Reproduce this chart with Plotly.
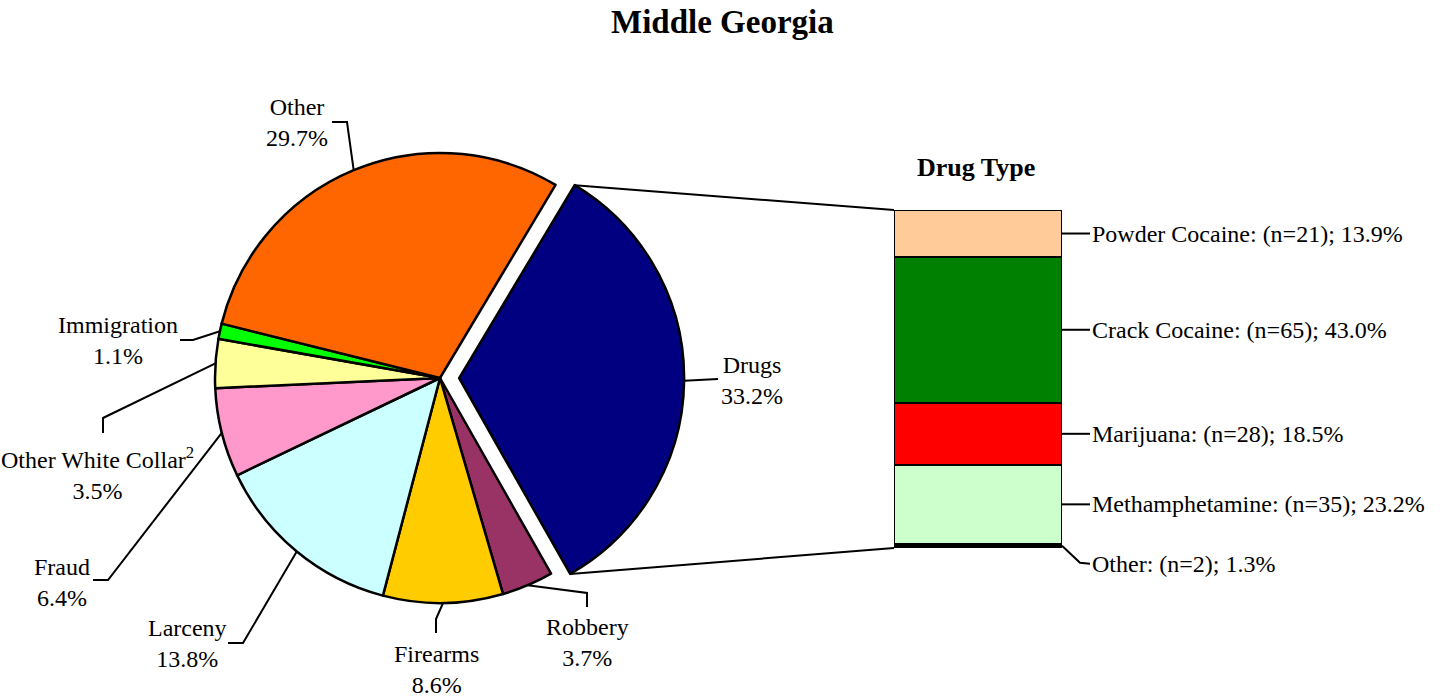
import math
import plotly.graph_objects as go

# ---------------- data ----------------
offense_labels = ["Drugs", "Robbery", "Firearms", "Larceny", "Fraud",
                  "Other White Collar", "Immigration", "Other"]
offense_pct = [33.2, 3.7, 8.6, 13.8, 6.4, 3.5, 1.1, 29.7]
offense_footnote = {"Other White Collar": "2"}
offense_colors = ["#000080", "#993366", "#FFCC00", "#CCFFFF", "#FF99CC",
                  "#FFFF99", "#00FF00", "#FF6600"]

drug_labels = ["Powder Cocaine", "Crack Cocaine", "Marijuana", "Methamphetamine", "Other"]
drug_n = [21, 65, 28, 35, 2]
drug_pct = [13.9, 43.0, 18.5, 23.2, 1.3]
drug_colors = ["#FFCC99", "#008000", "#FF0000", "#CCFFCC", "#000000"]

title_text = "Middle Georgia"
bar_title = "Drug Type"

# ---------------- layout constants (pixels) ----------------
W, H = 1440, 697
CX, CY, R = 440, 378, 225
PULL = 0.085
ROT = 30.9
BAR_X0, BAR_X1, BAR_TOP, BAR_BOT = 894, 1062, 210, 548
FONT = "Liberation Serif, Times New Roman, serif"
LW = 2
FS = 24

def px(x):
    return x / W

def py(y):
    return 1 - y / H

# label placement: text centre and elbow points (pixels), leader goes anchor -> elbows
label_layout = {
    "Drugs": dict(text=(752, 380), elbows=[(718, 379)]),
    "Robbery": dict(text=(587, 642), elbows=[(587, 593), (587, 607)]),
    "Firearms": dict(text=(437, 669), elbows=[(436, 619), (436, 633)]),
    "Larceny": dict(text=(187, 643), elbows=[(243, 643), (228, 643)]),
    "Fraud": dict(text=(62, 582), elbows=[(108, 580), (93, 580)]),
    "Other White Collar": dict(text=(98, 473), elbows=[(103, 418), (103, 433)]),
    "Immigration": dict(text=(118, 340), elbows=[(193, 340), (180, 340)]),
    "Other": dict(text=(297, 122), elbows=[(347, 122), (332, 122)]),
}

half = R * (1 + PULL)
pie_domain_x = [px(CX - half), px(CX + half)]
pie_domain_y = [py(CY + half), py(CY - half)]
pulls = [PULL if lab == "Drugs" else 0 for lab in offense_labels]

fig = go.Figure()
fig.add_trace(go.Pie(
    labels=offense_labels, values=offense_pct, sort=False,
    direction="clockwise", rotation=ROT, pull=pulls,
    marker=dict(colors=offense_colors, line=dict(color="black", width=2.5)),
    textinfo="none", hoverinfo="label+value", showlegend=False,
    domain=dict(x=pie_domain_x, y=pie_domain_y),
))

# stacked bar (bottom to top = reversed list order)
for i in reversed(range(len(drug_labels))):
    fig.add_trace(go.Bar(
        x=[0], y=[drug_pct[i]], width=1, name=drug_labels[i],
        marker=dict(color=drug_colors[i], line=dict(color="black", width=2.5)),
        xaxis="x2", yaxis="y2", showlegend=False,
        hovertemplate=drug_labels[i] + ": %{y}%<extra></extra>",
    ))

shapes = []
annotations = []

def line_path(points):
    d = "M " + " L ".join(f"{px(x):.5f},{py(y):.5f}" for x, y in points)
    return dict(type="path", xref="paper", yref="paper", path=d,
                line=dict(color="black", width=LW), layer="above")

# pie geometry from data
total = sum(offense_pct)
cum = 0.0
drugs_edges = None
for lab, v in zip(offense_labels, offense_pct):
    a0 = ROT + 360 * cum / total
    a1 = a0 + 360 * v / total
    mid = math.radians((a0 + a1) / 2)
    p = PULL if lab == "Drugs" else 0
    ox, oy = p * R * math.sin(mid), -p * R * math.cos(mid)
    anchor = (CX + ox + R * math.sin(mid), CY + oy - R * math.cos(mid))
    if lab == "Drugs":
        drugs_edges = [
            (CX + ox + R * math.sin(math.radians(a0)), CY + oy - R * math.cos(math.radians(a0))),
            (CX + ox + R * math.sin(math.radians(a1)), CY + oy - R * math.cos(math.radians(a1))),
        ]
    lay = label_layout[lab]
    shapes.append(line_path([anchor] + lay["elbows"]))
    name = lab
    if lab in offense_footnote:
        name += "<sup>" + offense_footnote[lab] + "</sup>"
    tx, ty = lay["text"]
    annotations.append(dict(
        x=px(tx), y=py(ty), xref="paper", yref="paper", showarrow=False,
        text=f"{name}<br>{v:.1f}%", align="center",
        xanchor="center", yanchor="middle",
        font=dict(family=FONT, size=FS, color="black"),
    ))
    cum += v

# connectors from pulled slice to bar
shapes.append(line_path([drugs_edges[0], (BAR_X0, BAR_TOP)]))
shapes.append(line_path([drugs_edges[1], (BAR_X0, BAR_BOT)]))

# bar labels
dtotal = sum(drug_pct)
scale = (BAR_BOT - BAR_TOP) / dtotal
top_cum = 0.0
for lab, n, v in zip(drug_labels, drug_n, drug_pct):
    yc = BAR_TOP + (top_cum + v / 2) * scale
    if lab == "Other":
        pts = [(BAR_X1, yc), (1080, yc + 17), (1090, yc + 18)]
    else:
        pts = [(BAR_X1, yc), (1090, yc)]
    shapes.append(line_path(pts))
    annotations.append(dict(
        x=px(1090), y=py(pts[-1][1]), xref="paper", yref="paper", showarrow=False,
        text=f"{lab}: (n={n}); {v:.1f}%", xanchor="left", yanchor="middle",
        font=dict(family=FONT, size=FS, color="black"),
    ))
    top_cum += v

annotations.append(dict(
    x=px(722), y=py(22), xref="paper", yref="paper", showarrow=False,
    text=f"<b>{title_text}</b>", xanchor="center", yanchor="middle",
    font=dict(family=FONT, size=33, color="black"),
))
annotations.append(dict(
    x=px(976), y=py(168), xref="paper", yref="paper", showarrow=False,
    text=f"<b>{bar_title}</b>", xanchor="center", yanchor="middle",
    font=dict(family=FONT, size=26, color="black"),
))

fig.update_layout(
    width=W, height=H,
    margin=dict(l=0, r=0, t=0, b=0),
    paper_bgcolor="white", plot_bgcolor="rgba(0,0,0,0)",
    barmode="stack", bargap=0,
    xaxis2=dict(domain=[px(BAR_X0), px(BAR_X1)], range=[-0.5, 0.5], visible=False,
                anchor="y2", fixedrange=True),
    yaxis2=dict(domain=[py(BAR_BOT), py(BAR_TOP)], range=[0, dtotal], visible=False,
                anchor="x2", fixedrange=True),
    shapes=shapes, annotations=annotations,
    font=dict(family=FONT, color="black"),
)

fig.write_html("out.html",
               config={"displayModeBar": False},
               post_script="document.body.style.margin='0';document.body.style.overflow='hidden';")
